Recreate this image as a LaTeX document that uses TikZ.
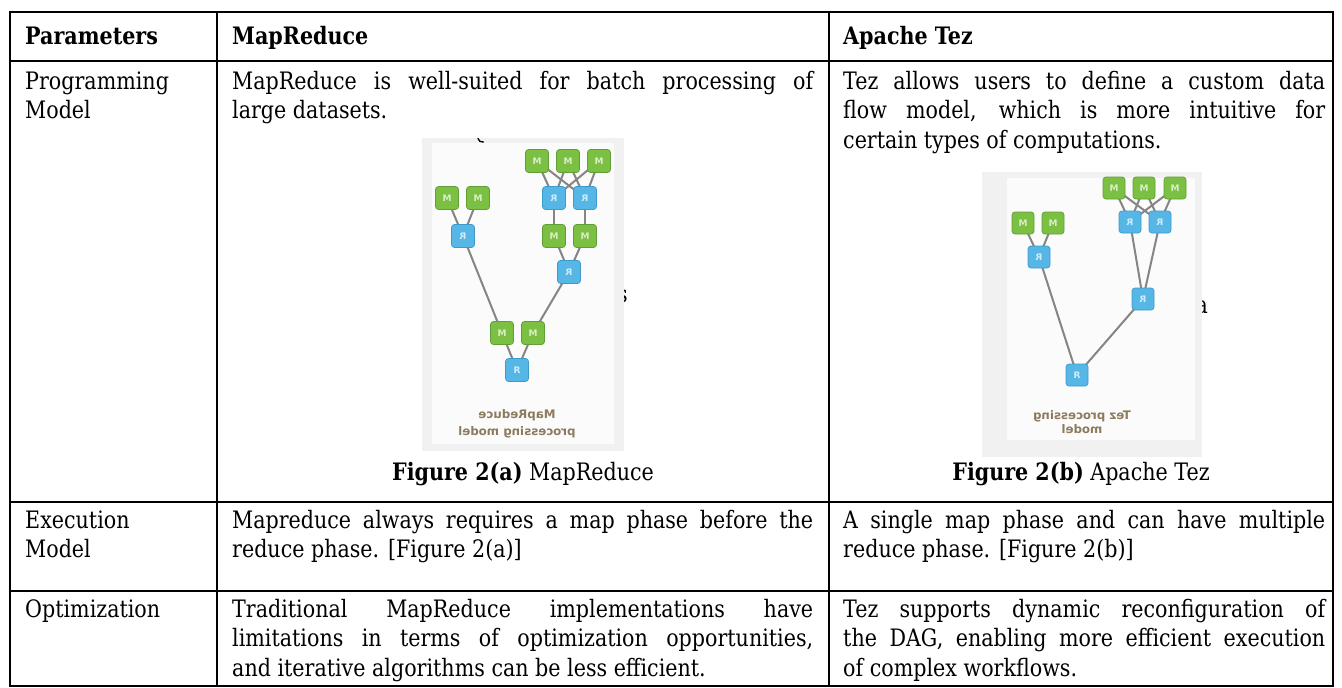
\documentclass[tikz,border=0pt]{standalone}
\usepackage{fontspec}
\usepackage{graphicx}
\setmainfont{DejaVu Serif}[FakeStretch=0.86]
\newfontfamily\figsans{DejaVu Sans}
\pgfdeclarelayer{bg}
\pgfdeclarelayer{edges}
\pgfsetlayers{bg,edges,main}
\definecolor{mgreen}{HTML}{7CC043}
\definecolor{mgreenD}{HTML}{5F9F36}
\definecolor{mtext}{HTML}{D9EEC8}
\definecolor{rblue}{HTML}{56B7E6}
\definecolor{rblueD}{HTML}{3C9BCB}
\definecolor{rtext}{HTML}{D2ECF8}
\definecolor{edgegray}{HTML}{858585}
\definecolor{mirtext}{HTML}{8C7B5E}
\definecolor{imgbg}{HTML}{F1F1F1}
\definecolor{imgwhite}{HTML}{FBFBFB}
\newcommand\bodyfont{\fontsize{24}{29.5}\selectfont}
\newcommand\jline[2]{\makebox[#1][s]{#2}}
\begin{document}
\begin{tikzpicture}[x=1pt,y=-1pt,
  gridline/.style={line width=1.8pt, black},
  tcell/.style={anchor=north west, inner sep=0pt, align=left, font=\bodyfont},
  headcell/.style={anchor=base west, inner sep=0pt, font=\bodyfont\bfseries},
  capstyle/.style={anchor=base, inner sep=0pt, font=\bodyfont},
  mbox/.style={rounded corners=3pt, draw=mgreenD, fill=mgreen, line width=0.7pt, minimum size=23pt, inner sep=0pt, text=mtext, font=\figsans\bfseries\fontsize{9}{9}\selectfont},
  rbox/.style={rounded corners=3pt, draw=rblueD, fill=rblue, line width=0.7pt, minimum size=23pt, inner sep=0pt, text=rtext, font=\figsans\bfseries\fontsize{9}{9}\selectfont},
  tezsize/.style={minimum size=22pt},
  edgeline/.style={draw=edgegray, line width=2pt},
  mirtxt/.style={align=center, text=mirtext, inner sep=0pt},
  straychar/.style={inner sep=0pt, font=\bodyfont, anchor=base east}
]
\useasboundingbox (0,0) rectangle (1342,688);
\begin{pgfonlayer}{bg}
  \fill[white] (0,0) rectangle (1342,688);
  \node[straychar] (s1) at (628,302) {s};
  \node[straychar] (s2) at (1208,313) {a};
  % image boxes
  \fill[imgbg] (422,138) rectangle (624,451);
  \fill[imgwhite] (432,143) rectangle (614,444);
  \fill[imgbg] (982,172) rectangle (1202,457);
  \fill[imgwhite] (1007,178) rectangle (1195,440);
  \draw[line width=1.3pt, line cap=round] (478,138.5) .. controls (479.5,141.5) .. (483.5,142);
\end{pgfonlayer}

% header
\node[headcell] (hp) at (25,45) {Parameters};
\node[headcell] (hm) at (232,45) {MapReduce};
\node[headcell] (ht) at (843,45) {Apache Tez};

% row 1
\node[tcell] (p1) at (25,68.35) {\strut Programming\\Model};
\node[tcell] (m1) at (232,68.35) {\strut\jline{581pt}{MapReduce is well-suited for batch processing of}\\large datasets.};
\node[tcell] (t1) at (843,68.35) {\strut\jline{482pt}{Tez allows users to define a custom data}\\\jline{482pt}{flow model, which is more intuitive for}\\certain types of computations.};

% MapReduce figure
\node[mbox] (ma) at (447,198) {M};
\node[mbox] (mb) at (478,198) {M};
\node[rbox] (ra) at (463,236) {\reflectbox{R}};
\node[mbox] (mc) at (537,161) {M};
\node[mbox] (md) at (568,161) {M};
\node[mbox] (me) at (599,161) {M};
\node[rbox] (rb) at (554,198) {\reflectbox{R}};
\node[rbox] (rc) at (585,198) {\reflectbox{R}};
\node[mbox] (mf) at (554,236) {M};
\node[mbox] (mg) at (585,236) {M};
\node[rbox] (rd) at (569,272) {\reflectbox{R}};
\node[mbox] (mh) at (502,333) {M};
\node[mbox] (mi) at (533,333) {M};
\node[rbox] (re) at (517,370) {R};
\node[mirtxt, font=\figsans\bfseries\fontsize{11.8}{17}\selectfont] (mrcap) at (517,424) {\reflectbox{MapReduce}\\\reflectbox{processing model}};

% Tez figure
\node[mbox,tezsize] (tma) at (1023,223) {M};
\node[mbox,tezsize] (tmb) at (1053,223) {M};
\node[rbox,tezsize] (tra) at (1039,257) {\reflectbox{R}};
\node[mbox,tezsize] (tmc) at (1114,188) {M};
\node[mbox,tezsize] (tmd) at (1144,188) {M};
\node[mbox,tezsize] (tme) at (1175,188) {M};
\node[rbox,tezsize] (trb) at (1130,222) {\reflectbox{R}};
\node[rbox,tezsize] (trc) at (1160,222) {\reflectbox{R}};
\node[rbox,tezsize] (trd) at (1143,299) {\reflectbox{R}};
\node[rbox,tezsize] (tre) at (1077,375) {R};
\node[mirtxt, font=\figsans\bfseries\fontsize{11.8}{14.5}\selectfont] (tezcap) at (1082,422) {\reflectbox{Tez processing}\\\reflectbox{model}};

\begin{pgfonlayer}{edges}
  \draw[edgeline] (ma.center) -- (ra.center);
  \draw[edgeline] (mb.center) -- (ra.center);
  \foreach \u in {mc,md,me}{\foreach \v in {rb,rc}{\draw[edgeline] (\u.center) -- (\v.center);}}
  \draw[edgeline] (rb.center) -- (mf.center);
  \draw[edgeline] (rc.center) -- (mg.center);
  \draw[edgeline] (mf.center) -- (rd.center);
  \draw[edgeline] (mg.center) -- (rd.center);
  \draw[edgeline] (ra.center) -- (mh.center);
  \draw[edgeline] (rd.center) -- (mi.center);
  \draw[edgeline] (mh.center) -- (re.center);
  \draw[edgeline] (mi.center) -- (re.center);
  \draw[edgeline] (tma.center) -- (tra.center);
  \draw[edgeline] (tmb.center) -- (tra.center);
  \foreach \u in {tmc,tmd,tme}{\foreach \v in {trb,trc}{\draw[edgeline] (\u.center) -- (\v.center);}}
  \draw[edgeline] (trb.center) -- (trd.center);
  \draw[edgeline] (trc.center) -- (trd.center);
  \draw[edgeline] (tra.center) -- (tre.center);
  \draw[edgeline] (trd.center) -- (tre.center);
\end{pgfonlayer}

% captions
\node[capstyle] (capa) at (523,480) {\textbf{Figure 2(a)} MapReduce};
\node[capstyle] (capb) at (1081,480) {\textbf{Figure 2(b)} Apache Tez};

% row 2
\node[tcell] (p2) at (25,507.35) {\strut Execution\\Model};
\node[tcell] (m2) at (232,507.35) {\strut\jline{581pt}{Mapreduce always requires a map phase before the}\\reduce phase. [Figure 2(a)]};
\node[tcell] (t2) at (843,507.35) {\strut\jline{482pt}{A single map phase and can have multiple}\\reduce phase. [Figure 2(b)]};

% row 3
\node[tcell] (p3) at (25,596.35) {\strut Optimization};
\node[tcell] (m3) at (232,596.35) {\strut\jline{581pt}{Traditional MapReduce implementations have}\\\jline{581pt}{limitations in terms of optimization opportunities,}\\and iterative algorithms can be less efficient.};
\node[tcell] (t3) at (843,596.35) {\strut\jline{482pt}{Tez supports dynamic reconfiguration of}\\\jline{482pt}{the DAG, enabling more efficient execution}\\of complex workflows.};

% table rules
\draw[gridline] (10,12) rectangle (1333,686);
\draw[gridline] (10,61) -- (1333,61);
\draw[gridline] (10,502) -- (1333,502);
\draw[gridline] (10,591) -- (1333,591);
\draw[gridline] (217,12) -- (217,686);
\draw[gridline] (829,12) -- (829,686);
\end{tikzpicture}
\end{document}
